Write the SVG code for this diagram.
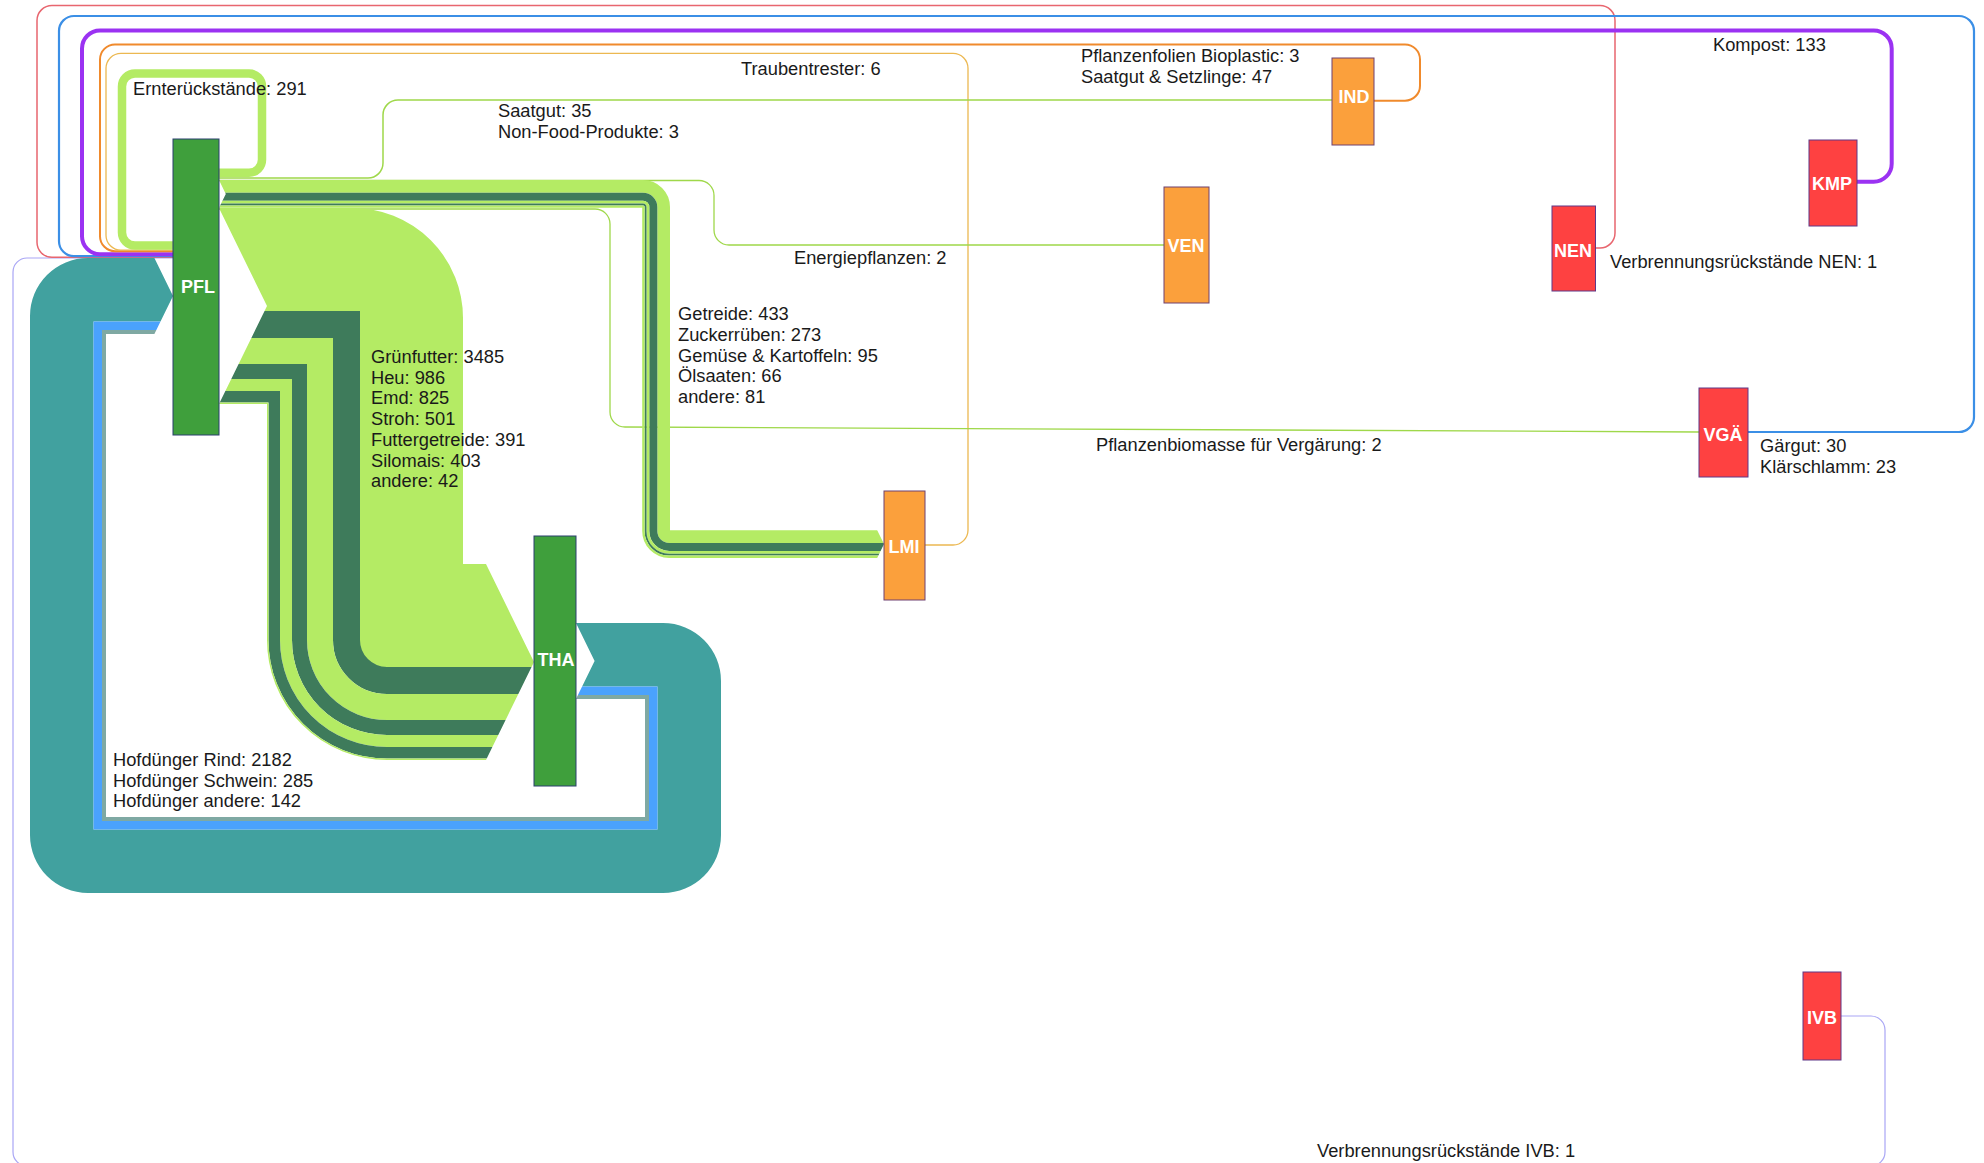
<svg xmlns="http://www.w3.org/2000/svg" width="1984" height="1163" viewBox="0 0 1984 1163">
  <style>
    .lbl { font-family: "Liberation Sans", Arial, sans-serif; font-size: 18.3px; fill: #1a1a1a; }
    .nlbl { font-family: "Liberation Sans", Arial, sans-serif; font-size: 18px; font-weight: bold; fill: #ffffff; text-anchor: middle; }
    .band { fill: none; stroke-linejoin: miter; stroke-miterlimit: 10; }
    .lg { stroke: #b4eb64; }
    .dg { stroke: #3e7b5b; }
    .line { fill: none; stroke-linejoin: round; }
    .green-node { fill: #3f9f3c; stroke: #2b3f6e; stroke-width: 1; }
    .orange-node { fill: #fba03c; stroke: #6e4070; stroke-width: 1; }
    .red-node { fill: #fe4141; stroke: #5e3888; stroke-width: 1; }
  </style>
  <defs>
    <!-- tail notch at PFL and arrow tip at LMI for the food-industry bundle -->
    <clipPath id="clip-lmi">
      <path clip-rule="evenodd" d="M150 150 H960 V600 H150 Z M219 170 V180 L225.8 193.9 L219 207.8 V215 H200 V170 Z M877.2 520 V530.2 L884 544.1 L877.2 558 V570 H910 V520 Z"/>
    </clipPath>
    <!-- tail notch at PFL and arrow tip at THA for the fodder bundle -->
    <clipPath id="clip-tha">
      <path clip-rule="evenodd" d="M150 140 H600 V820 H150 Z M219 200 V208 L267 306 L219 404 V410 H195 V200 Z M486 555 V564 L534 662 L486 760 V770 H570 V555 Z"/>
    </clipPath>
    <!-- tail notch at THA and arrow tip at PFL for the manure loop -->
    <clipPath id="clip-manure">
      <path clip-rule="evenodd" d="M0 230 H780 V920 H0 Z M154.4 250 V258 L173 296 L154.4 334 V340 H200 V250 Z M576 615 V623 L594.6 661 L576 699 V705 H550 V615 Z"/>
    </clipPath>
  </defs>

  <g id="connectors">
    <!-- thin return flows into PFL -->
    <path class="line" stroke="#a9a6f5" stroke-width="1.2" d="M1841 1016 H1871 A14 14 0 0 1 1885 1030 V1152 A14 14 0 0 1 1871 1166 H27 A14 14 0 0 1 13 1152 V272 A14 14 0 0 1 27 258 H173"/>
    <path class="line" stroke="#e8666f" stroke-width="1.5" d="M1596 248 H1600 A15 15 0 0 0 1615 233 V20.5 A15 15 0 0 0 1600 5.5 H52 A15 15 0 0 0 37 20.5 V242.3 A15 15 0 0 0 52 257.3 H173"/>
    <path class="line" stroke="#3b8fe6" stroke-width="2.2" d="M1748 432 H1959 A15 15 0 0 0 1974 417 V31 A15 15 0 0 0 1959 16 H74 A15 15 0 0 0 59 31 V241.2 A15 15 0 0 0 74 256.2 H173"/>
    <path class="line" stroke="#9b32f2" stroke-width="4" d="M1857 181.7 H1873.7 A18 18 0 0 0 1891.7 163.7 V48.5 A18 18 0 0 0 1873.7 30.5 H100 A18 18 0 0 0 82 48.5 V236.2 A18 18 0 0 0 100 254.2 H173"/>
    <path class="line" stroke="#f08a2c" stroke-width="2" d="M1374 100.7 H1405 A15 15 0 0 0 1420 85.7 V59.5 A15 15 0 0 0 1405 44.5 H115 A15 15 0 0 0 100 59.5 V236.2 A15 15 0 0 0 115 251.2 H173"/>
    <path class="line" stroke="#ecb851" stroke-width="1.3" d="M925 545 H953 A15 15 0 0 0 968 530 V68.3 A15 15 0 0 0 953 53.3 H121 A15 15 0 0 0 106 68.3 V235.2 A15 15 0 0 0 121 250.2 H173"/>

    <!-- thin outflows from PFL -->
    <path class="line" stroke="#9fd84a" stroke-width="1.5" d="M219 178 H368 A15 15 0 0 0 383 163 V115 A15 15 0 0 1 398 100 H1332"/>
    <path class="line" stroke="#9fd84a" stroke-width="1.3" d="M219 180.5 H699 A15 15 0 0 1 714 195.5 V230 A15 15 0 0 0 729 245 H1164"/>
    <path class="line" stroke="#9fd84a" stroke-width="1.3" d="M219 209 H595 A15 15 0 0 1 610 224 V412 A15 15 0 0 0 625 427 L1699 432"/>

    <!-- Ernterückstände loop back into PFL -->
    <path class="band lg" stroke-width="8.5" d="M219 172.75 H249 A13 13 0 0 0 262 159.75 V86.5 A13 13 0 0 0 249 73.5 H135 A13 13 0 0 0 122 86.5 V232.5 A13 13 0 0 0 135 245.5 H173"/>

    <!-- PFL to LMI bundle -->
    <g clip-path="url(#clip-lmi)">
      <path class="band lg" stroke-width="12.7" d="M200 186.35 H643 A20.65 20.65 0 0 1 663.65 207 V531 A5.55 5.55 0 0 0 669.2 536.55 H900"/>
      <path class="band dg" stroke-width="8" d="M200 196.7 H643 A10.3 10.3 0 0 1 653.3 207 V531 A15.9 15.9 0 0 0 669.2 546.9 H900"/>
      <path class="band lg" stroke-width="2.8" d="M200 202.1 H643 A4.9 4.9 0 0 1 647.9 207 V531 A21.3 21.3 0 0 0 669.2 552.3 H900"/>
      <path class="band dg" stroke-width="1.9" d="M200 204.45 H643 A2.55 2.55 0 0 1 645.55 207 V531 A23.65 23.65 0 0 0 669.2 554.65 H900"/>
      <path class="band lg" stroke-width="2.4" d="M200 206.6 H643 A0.4 0.4 0 0 1 643.4 207 V531 A25.8 25.8 0 0 0 669.2 556.8 H900"/>
    </g>

    <!-- PFL to THA fodder bundle -->
    <g clip-path="url(#clip-tha)">
      <path class="band lg" stroke-width="103" d="M200 259.5 H353 A58.5 58.5 0 0 1 411.5 318 V615.5 H560"/>
      <path class="band dg" stroke-width="27" d="M200 324.5 H346.5 V640 A40.5 40.5 0 0 0 387 680.5 H560"/>
      <path class="band lg" stroke-width="26" d="M200 351 H320 V640 A67 67 0 0 0 387 707 H560"/>
      <path class="band dg" stroke-width="15" d="M200 371.5 H299.5 V640 A87.5 87.5 0 0 0 387 727.5 H560"/>
      <path class="band lg" stroke-width="12" d="M200 385 H286 V640 A101 101 0 0 0 387 741 H560"/>
      <path class="band dg" stroke-width="11.5" d="M200 396.75 H274.25 V640 A112.75 112.75 0 0 0 387 752.75 H560"/>
      <path class="band lg" stroke-width="1.5" d="M200 403.25 H267.75 V640 A119.25 119.25 0 0 0 387 759.25 H560"/>
    </g>

    <!-- THA to PFL manure loop -->
    <g clip-path="url(#clip-manure)">
      <path fill="#41a19f" d="M560 623 H663 A58 58 0 0 1 721 681 V835 A58 58 0 0 1 663 893 H88 A58 58 0 0 1 30 835 V316 A58 58 0 0 1 88 258 H190 V321.5 H93.5 V829.5 H657.5 V686.5 H560 Z"/>
      <path class="band" stroke="#4aa2fd" stroke-width="8.5" d="M560 690.75 H653.25 V825.25 H97.75 V325.75 H190"/>
      <path class="band" stroke="#7fa9a3" stroke-width="4" d="M560 697 H647 V819 H104 V332 H190"/>
    </g>
  </g>

  <g id="flow-labels">
    <text class="lbl" x="133" y="95">Ernterückstände: 291</text>
    <text class="lbl" x="498" y="117">Saatgut: 35<tspan x="498" dy="21">Non-Food-Produkte: 3</tspan></text>
    <text class="lbl" x="741" y="75">Traubentrester: 6</text>
    <text class="lbl" x="1081" y="62">Pflanzenfolien Bioplastic: 3<tspan x="1081" dy="21">Saatgut &amp; Setzlinge: 47</tspan></text>
    <text class="lbl" x="1713" y="51">Kompost: 133</text>
    <text class="lbl" x="794" y="264">Energiepflanzen: 2</text>
    <text class="lbl" x="1610" y="268">Verbrennungsrückstände NEN: 1</text>
    <text class="lbl" x="678" y="320">Getreide: 433<tspan x="678" dy="20.8">Zuckerrüben: 273</tspan><tspan x="678" dy="20.8">Gemüse &amp; Kartoffeln: 95</tspan><tspan x="678" dy="20.8">Ölsaaten: 66</tspan><tspan x="678" dy="20.8">andere: 81</tspan></text>
    <text class="lbl" x="371" y="363">Grünfutter: 3485<tspan x="371" dy="20.7">Heu: 986</tspan><tspan x="371" dy="20.7">Emd: 825</tspan><tspan x="371" dy="20.7">Stroh: 501</tspan><tspan x="371" dy="20.7">Futtergetreide: 391</tspan><tspan x="371" dy="20.7">Silomais: 403</tspan><tspan x="371" dy="20.7">andere: 42</tspan></text>
    <text class="lbl" x="1096" y="451">Pflanzenbiomasse für Vergärung: 2</text>
    <text class="lbl" x="1760" y="452">Gärgut: 30<tspan x="1760" dy="21">Klärschlamm: 23</tspan></text>
    <text class="lbl" x="113" y="766">Hofdünger Rind: 2182<tspan x="113" dy="20.5">Hofdünger Schwein: 285</tspan><tspan x="113" dy="20.5">Hofdünger andere: 142</tspan></text>
    <text class="lbl" x="1317" y="1157">Verbrennungsrückstände IVB: 1</text>
  </g>

  <g id="node-PFL"><rect class="green-node" x="173" y="139" width="46" height="296"/><text class="nlbl" x="198" y="293">PFL</text></g>
  <g id="node-THA"><rect class="green-node" x="534" y="536" width="42" height="250"/><text class="nlbl" x="556" y="666">THA</text></g>
  <g id="node-LMI"><rect class="orange-node" x="884" y="491" width="41" height="109"/><text class="nlbl" x="904" y="553">LMI</text></g>
  <g id="node-VEN"><rect class="orange-node" x="1164" y="187" width="45" height="116"/><text class="nlbl" x="1186" y="252">VEN</text></g>
  <g id="node-IND"><rect class="orange-node" x="1332" y="58" width="42" height="87"/><text class="nlbl" x="1354" y="103">IND</text></g>
  <g id="node-NEN"><rect class="red-node" x="1552" y="206" width="43.5" height="85"/><text class="nlbl" x="1573" y="257">NEN</text></g>
  <g id="node-KMP"><rect class="red-node" x="1809" y="140" width="48" height="86"/><text class="nlbl" x="1832" y="190">KMP</text></g>
  <g id="node-VGA"><rect class="red-node" x="1699" y="388" width="49" height="89"/><text class="nlbl" x="1723" y="441">VGÄ</text></g>
  <g id="node-IVB"><rect class="red-node" x="1803" y="972" width="38" height="88" stroke="#22308a"/><text class="nlbl" x="1822" y="1024">IVB</text></g>
</svg>
